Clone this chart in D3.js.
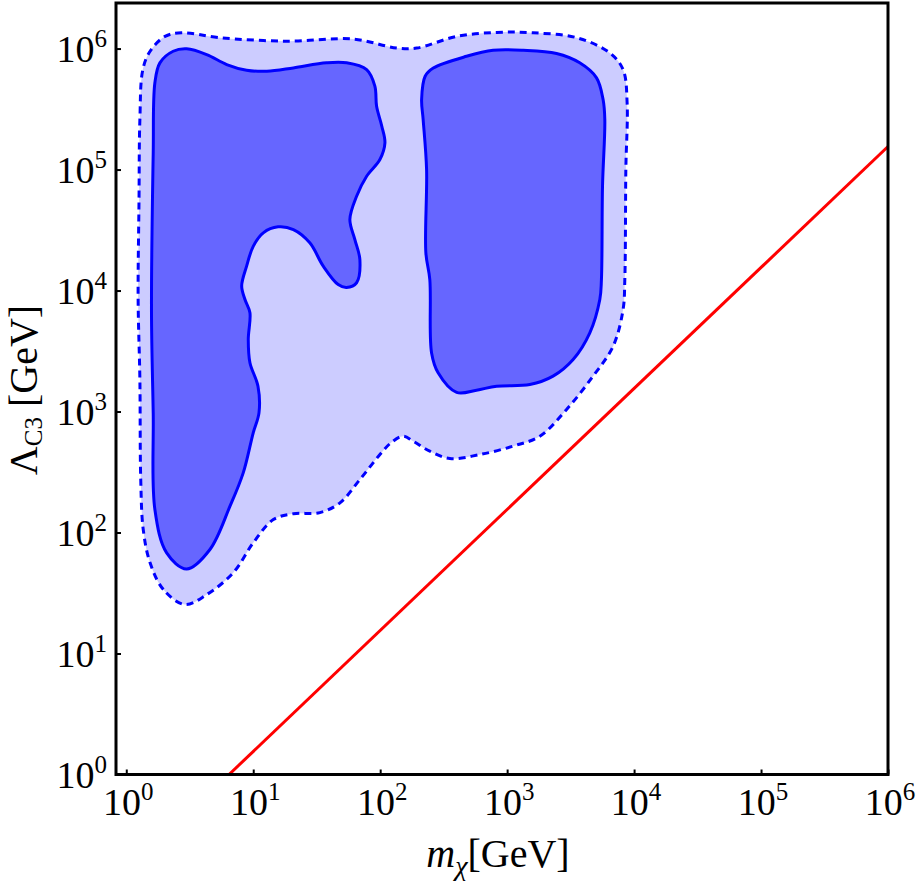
<!DOCTYPE html>
<html>
<head>
<meta charset="utf-8">
<script src="https://cdn.jsdelivr.net/npm/d3@7"></script>
<style>
  body { margin: 0; background: white; }
</style>
</head>
<body>
<div id="chart"></div>
<script>
// tick exponents (labels are 10^n)
const xTickExps = [0, 1, 2, 3, 4, 5, 6];
const yTickExps = [0, 1, 2, 3, 4, 5, 6];

// outer region (dashed), points are [m_chi in GeV, Lambda_C3 in GeV]
const outerContour = [
  [2.90, 25.4], [1.96, 33.8], [1.54, 56.2], [1.36, 106], [1.30, 274],
  [1.28, 1840], [1.24, 8430], [1.26, 56500], [1.28, 2.59e5], [1.35, 6.70e5],
  [1.54, 9.50e5], [2.02, 1.26e6], [2.73, 1.35e6], [5.47, 1.23e6], [18.3, 1.15e6],
  [61.0, 1.20e6], [135, 1.01e6], [194, 1.01e6], [400, 1.26e6], [826, 1.36e6],
  [1600, 1.35e6], [3520, 1.23e6], [6440, 9.21e5], [8190, 6.70e5], [8810, 3.58e5],
  [8610, 1.0e5], [8450, 12300], [8190, 6970], [6840, 3470], [4750, 1960],
  [2940, 1040], [1810, 625], [1110, 517], [610, 441], [354, 409],
  [246, 470], [182, 569], [152, 625], [123, 557], [99.5, 441],
  [69.2, 274], [48.2, 176], [33.5, 146], [20.7, 143], [14.4, 128],
  [10.0, 82.2], [6.96, 46.5], [4.30, 30.7]
];

// inner region, left blob (solid)
const innerLeft = [
  [2.99, 50], [2.08, 67.9], [1.68, 155], [1.63, 975], [1.58, 6550],
  [1.63, 1.37e5], [1.68, 5.21e5], [1.84, 7.62e5], [2.34, 9.50e5], [2.99, 9.95e5],
  [4.30, 8.92e5], [6.18, 7.38e5], [8.87, 6.62e5], [12.8, 6.49e5], [20.7, 6.92e5],
  [37.8, 7.62e5], [54.4, 7.62e5], [78.2, 6.70e5], [90.8, 4.89e5], [93.7, 3.33e5],
  [103, 2.28e5], [109, 1.66e5], [99.5, 1.21e5], [78.2, 88100], [65.2, 60200],
  [57.7, 38600], [63.2, 26400], [69.2, 18000], [65.2, 11600], [54.4, 10600],
  [46.7, 11200], [35.6, 15900], [27.9, 24800], [20.7, 31900], [15.7, 33600],
  [12.0, 30000], [10.0, 23200], [8.87, 15900], [8.11, 10900], [8.61, 8430],
  [9.42, 6550], [9.14, 3940], [9.42, 2530], [10.9, 1620], [11.1, 975],
  [10.0, 667], [8.34, 311], [6.56, 165], [4.56, 72.4]
];

// inner region, right blob (solid)
const innerRight = [
  [212, 3.79e5], [226, 5.9e5], [262, 6.9e5], [479, 8.63e5], [776, 9.68e5],
  [1340, 9.68e5], [2450, 9.10e5], [3730, 7.62e5], [5060, 5.73e5], [5700, 3.79e5],
  [5880, 2.59e5], [5640, 72800], [5530, 12300], [5370, 8430], [4480, 4470],
  [3310, 2690], [2300, 1960], [1510, 1670], [826, 1620], [574, 1500],
  [400, 1440], [286, 2090], [254, 3050], [246, 12300], [229, 20500],
  [232, 1.0e5], [218, 2.59e5]
];

// red diagonal line end points
const redLine = [[6.45, 1], [1e6, 1.55e5]];

let width = 917,
  height = 887,
  plot = { left: 116, right: 888, top: 3, bottom: 774.5 };

let svg = d3.select('#chart')
  .append('svg')
    .attr('width', width)
    .attr('height', height)
    .attr('font-family', "'Liberation Serif', 'DejaVu Serif', serif")
    .style('background', 'white');

let xScale = d3.scaleLog()
  .domain([0.83, 1e6])
  .range([plot.left, plot.right]);

let yScale = d3.scaleLog()
  .domain([1, 2.38e6])
  .range([plot.bottom, plot.top]);

svg.append('clipPath')
    .attr('id', 'plotClip')
  .append('rect')
    .attr('x', plot.left)
    .attr('y', plot.top)
    .attr('width', plot.right - plot.left)
    .attr('height', plot.bottom - plot.top);

let area = svg.append('g').attr('clip-path', 'url(#plotClip)');

let shape = d3.line()
  .x(d => xScale(d[0]))
  .y(d => yScale(d[1]))
  .curve(d3.curveCatmullRomClosed.alpha(0.5));

// light region with dashed border
area.append('path')
  .attr('d', shape(outerContour))
  .attr('fill', '#ccccff')
  .attr('stroke', '#0000ff')
  .attr('stroke-width', 3)
  .attr('stroke-dasharray', '7,5');

// dark regions with solid border
[innerLeft, innerRight].forEach(pts => {
  area.append('path')
    .attr('d', shape(pts))
    .attr('fill', '#6666ff')
    .attr('stroke', '#0000ff')
    .attr('stroke-width', 3);
});

area.append('path')
  .attr('d', d3.line().x(d => xScale(d[0])).y(d => yScale(d[1]))(redLine))
  .attr('fill', 'none')
  .attr('stroke', '#ff0000')
  .attr('stroke-width', 3);

// frame
svg.append('rect')
  .attr('x', plot.left)
  .attr('y', plot.top)
  .attr('width', plot.right - plot.left)
  .attr('height', plot.bottom - plot.top)
  .attr('fill', 'none')
  .attr('stroke', 'black')
  .attr('stroke-width', 3);

// ticks
let xAxis = d3.axisBottom(xScale)
  .tickValues(xTickExps.map(e => Math.pow(10, e)))
  .tickSize(-5)
  .tickFormat('');
svg.append('g')
  .attr('class', 'x axis')
  .attr('transform', 'translate(0,' + plot.bottom + ')')
  .call(xAxis)
  .call(g => g.select('.domain').remove())
  .call(g => g.selectAll('line').attr('stroke', 'black').attr('stroke-width', 2));

let yAxis = d3.axisLeft(yScale)
  .tickValues(yTickExps.map(e => Math.pow(10, e)))
  .tickSize(-5)
  .tickFormat('');
svg.append('g')
  .attr('class', 'y axis')
  .attr('transform', 'translate(' + plot.left + ',0)')
  .call(yAxis)
  .call(g => g.select('.domain').remove())
  .call(g => g.selectAll('line').attr('stroke', 'black').attr('stroke-width', 2));

// tick labels 10^n
function powLabel(sel) {
  sel.append('tspan').text('10');
  sel.append('tspan')
    .attr('font-size', 25)
    .attr('dy', -15)
    .text(d => d);
}

svg.append('g').selectAll('text')
  .data(xTickExps)
  .enter()
  .append('text')
    .attr('x', d => xScale(Math.pow(10, d)) + 2)
    .attr('y', 815)
    .attr('font-size', 38)
    .attr('text-anchor', 'middle')
    .call(powLabel);

svg.append('g').selectAll('text')
  .data(yTickExps)
  .enter()
  .append('text')
    .attr('x', 107)
    .attr('y', d => yScale(Math.pow(10, d)) + 13)
    .attr('font-size', 38)
    .attr('text-anchor', 'end')
    .call(powLabel);

// axis titles
let xTitle = svg.append('text')
  .attr('x', 498)
  .attr('y', 867)
  .attr('font-size', 40)
  .attr('text-anchor', 'middle');
xTitle.append('tspan').attr('font-style', 'italic').text('m');
xTitle.append('tspan').attr('font-style', 'italic').attr('font-size', 28).attr('dy', 8).text('\u03c7');
xTitle.append('tspan').attr('dy', -8).text('[GeV]');

let yTitle = svg.append('text')
  .attr('transform', 'translate(37,390) rotate(-90)')
  .attr('font-size', 40)
  .attr('text-anchor', 'middle');
yTitle.append('tspan').text('\u039b');
yTitle.append('tspan').attr('font-size', 25).attr('dy', 5).text('C3');
yTitle.append('tspan').attr('dy', -5).text(' [GeV]');
</script>
</body>
</html>
